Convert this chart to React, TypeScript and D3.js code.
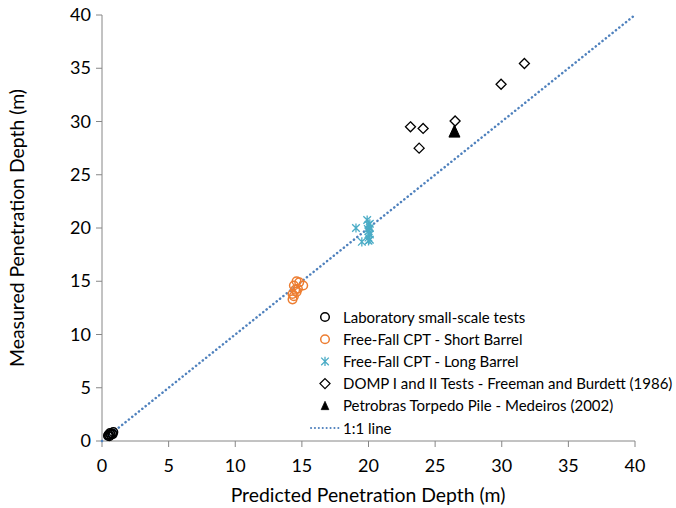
import React from 'react';
import * as d3 from 'd3';

// Laboratory small-scale tests
const labX = [0.45, 0.55, 0.65, 0.75, 0.85, 0.6, 0.8, 0.5];
const labY = [0.5, 0.45, 0.6, 0.7, 0.85, 0.75, 0.65, 0.6];

// Free-Fall CPT - Short Barrel
const shortX = [14.4, 14.6, 14.8, 14.5, 14.7, 14.3, 14.4, 14.3, 15.1, 14.6];
const shortY = [14.6, 15.0, 14.9, 14.2, 14.3, 13.8, 13.6, 13.3, 14.6, 14.0];

// Free-Fall CPT - Long Barrel
const longX = [19.06, 19.9, 19.5, 20.0, 20.1, 20.0, 20.1, 20.0, 20.1, 19.95, 20.05, 20.1, 20.0];
const longY = [20.0, 20.75, 18.7, 20.3, 20.0, 19.7, 19.4, 19.1, 18.9, 19.9, 19.5, 20.4, 18.8];

// DOMP I and II Tests - Freeman and Burdett (1986)
const dompX = [31.7, 29.95, 23.15, 24.1, 23.8, 26.5];
const dompY = [35.45, 33.5, 29.5, 29.35, 27.5, 30.05];

// Petrobras Torpedo Pile - Medeiros (2002)
const petroX = [26.45];
const petroY = [29.05];

const oneToOne = [0, 40];
const ticks = [0, 5, 10, 15, 20, 25, 30, 35, 40];

const legendItems = [
  'Laboratory small-scale tests',
  'Free-Fall CPT - Short Barrel',
  'Free-Fall CPT - Long Barrel',
  'DOMP I and II Tests - Freeman and Burdett (1986)',
  'Petrobras Torpedo Pile - Medeiros (2002)',
  '1:1 line',
];

const W = 676;
const H = 508;
const font = 'Lato, "Open Sans", sans-serif';
const axisColor = '#868686';
const orange = '#ED7D31';
const cyan = '#4BACC6';
const blue = '#4F81BD';

const x = d3.scaleLinear().domain([0, 40]).range([102, 635]);
const y = d3.scaleLinear().domain([0, 40]).range([441, 15]);

const zip = (a: number[], b: number[]) => a.map((v, i) => [v, b[i]]);

const circle = (key: string, color: string, cx: number, cy: number) => (
  <circle key={key} cx={cx} cy={cy} r={4.3} fill="none" stroke={color} strokeWidth={1.5} />
);
const star = (key: string, cx: number, cy: number) => (
  <path
    key={key}
    transform={`translate(${cx},${cy})`}
    d="M-3.8,-3.8L3.8,3.8M-3.8,3.8L3.8,-3.8M0,-4.6L0,4.6"
    stroke={cyan}
    strokeWidth={1.3}
    fill="none"
  />
);
const diamond = (key: string, cx: number, cy: number) => (
  <path
    key={key}
    transform={`translate(${cx},${cy})`}
    d="M0,-5L5,0L0,5L-5,0Z"
    fill="white"
    stroke="black"
    strokeWidth={1.3}
  />
);
const triangle = (key: string, cx: number, cy: number, s = 1) => (
  <path
    key={key}
    transform={`translate(${cx},${cy}) scale(${s})`}
    d="M0,-6.5L5.5,5.5L-5.5,5.5Z"
    fill="black"
    stroke="black"
    strokeWidth={1}
  />
);

export default function App() {
  const line = d3
    .line<number>()
    .x((d) => x(d))
    .y((d) => y(d));

  const legX = 311;
  const legY0 = 317;
  const legStep = 22.2;

  return (
    <svg width={W} height={H} style={{ position: 'absolute', left: 0, top: 0, background: 'white' }}>
      {/* axes */}
      <line x1={x(0)} x2={x(0)} y1={y(40)} y2={y(0)} stroke={axisColor} strokeWidth={1} />
      <line x1={x(0)} x2={x(40)} y1={y(0)} y2={y(0)} stroke={axisColor} strokeWidth={1} />
      {ticks.map((t) => (
        <g key={'yt' + t}>
          <line x1={x(0) - 6} x2={x(0)} y1={y(t)} y2={y(t)} stroke={axisColor} />
          <text x={x(0) - 11} y={y(t) + 6} textAnchor="end" fontSize={18} fontFamily={font} fill="#000">
            {t}
          </text>
        </g>
      ))}
      {ticks.map((t) => (
        <g key={'xt' + t}>
          <line x1={x(t)} x2={x(t)} y1={y(0)} y2={y(0) + 6} stroke={axisColor} />
          <text x={x(t)} y={y(0) + 31} textAnchor="middle" fontSize={18} fontFamily={font} fill="#000">
            {t}
          </text>
        </g>
      ))}
      <text x={368} y={502} textAnchor="middle" fontSize={19.4} fontFamily={font} fill="#000">
        Predicted Penetration Depth (m)
      </text>
      <text
        transform={`translate(24,228) rotate(-90)`}
        textAnchor="middle"
        fontSize={19.4}
        fontFamily={font}
        fill="#000"
      >
        Measured Penetration Depth (m)
      </text>

      {/* 1:1 line */}
      <path
        d={line(oneToOne) || ''}
        stroke={blue}
        strokeWidth={2.5}
        strokeDasharray="0.1,4.2"
        strokeLinecap="round"
        fill="none"
      />

      {/* series */}
      {zip(labX, labY).map(([a, b], i) => circle('lab' + i, '#000', x(a), y(b)))}
      {zip(shortX, shortY).map(([a, b], i) => circle('sh' + i, orange, x(a), y(b)))}
      {zip(longX, longY).map(([a, b], i) => star('lo' + i, x(a), y(b)))}
      {zip(dompX, dompY).map(([a, b], i) => diamond('dm' + i, x(a), y(b)))}
      {zip(petroX, petroY).map(([a, b], i) => triangle('pt' + i, x(a), y(b)))}

      {/* legend */}
      <g>
        {legendItems.map((label, i) => {
          const cy = legY0 + i * legStep;
          const cx = legX + 14;
          let marker: React.ReactNode = null;
          if (i === 0) marker = circle('lg0', '#000', cx, cy);
          if (i === 1) marker = circle('lg1', orange, cx, cy);
          if (i === 2) marker = star('lg2', cx, cy);
          if (i === 3) marker = diamond('lg3', cx, cy);
          if (i === 4) marker = triangle('lg4', cx, cy, 0.7);
          if (i === 5)
            marker = (
              <line
                x1={legX}
                x2={legX + 28}
                y1={cy}
                y2={cy}
                stroke={blue}
                strokeWidth={2}
                strokeDasharray="0.1,3.8"
                strokeLinecap="round"
              />
            );
          return (
            <g key={'leg' + i}>
              {marker}
              <text x={legX + 32} y={cy + 5.5} fontSize={15} fontFamily={font} fill="#000">
                {label}
              </text>
            </g>
          );
        })}
      </g>
    </svg>
  );
}
